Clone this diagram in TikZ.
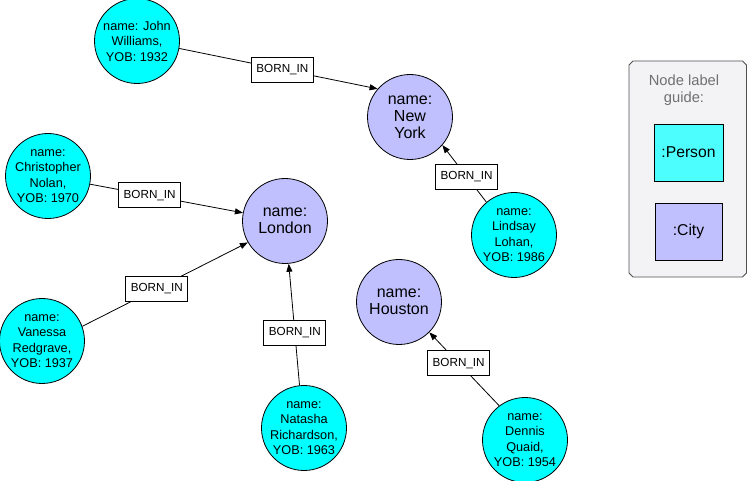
\documentclass[tikz,border=0pt]{standalone}
\usepackage{fontspec}
\setmainfont{Liberation Sans}
\usetikzlibrary{arrows.meta}
\definecolor{personfill}{HTML}{00FFFF}
\definecolor{personkey}{HTML}{4DFEFE}
\definecolor{cityfill}{HTML}{C0C0FF}
\definecolor{guidefill}{HTML}{F3F2F5}
\definecolor{guideline}{HTML}{505050}
\definecolor{guidetext}{HTML}{707070}

\begin{document}
\begin{tikzpicture}[x=1pt,y=-1pt,line width=0.8pt,>={Triangle[length=8pt,width=6pt]}]
  \tikzstyle{person}=[circle,draw,fill=personfill,minimum size=85pt,inner sep=-4pt,align=center,font=\fontsize{12.7}{15.5}\selectfont]
  \tikzstyle{city}=[circle,draw,fill=cityfill,minimum size=85pt,inner sep=0pt,align=center,font=\fontsize{16}{17}\selectfont]
  \tikzstyle{rel}=[draw,fill=white,minimum width=62pt,minimum height=25pt,inner sep=0pt,font=\fontsize{11.7}{14}\selectfont]
  \tikzstyle{key}=[draw,minimum height=57pt,inner sep=0pt,font=\fontsize{15.7}{18}\selectfont]
  \useasboundingbox (0,0) rectangle (748,481);

  % node label guide
  \draw[guideline,fill=guidefill] (633,61) -- (742.5,61) -- (746.5,65) -- (746.5,273)
    -- (742.5,277) -- (633,277) -- (629,273) -- (629,65) -- cycle;
  \node[align=center,text=guidetext,font=\fontsize{14.7}{17}\selectfont] (guide) at (684,90) {Node label\\guide:};
  \node[key,fill=personkey,minimum width=69pt] (kperson) at (688.5,152.5) {:Person};
  \node[key,fill=cityfill,minimum width=67pt]  (kcity)   at (688.5,231.5) {:City};

  % cities
  \node[city] (ny)  at (410,117) {name:\\New\\York};
  \node[city] (ldn) at (285,221) {name:\\London};
  \node[city] (hou) at (399,302) {name:\\Houston};

  % people
  \node[person] (jw) at (137,41)  {name: John\\Williams,\\YOB: 1932};
  \node[person] (cn) at (48,176)  {name:\\Christopher\\Nolan,\\YOB: 1970};
  \node[person] (vr) at (42,341)  {name:\\Vanessa\\Redgrave,\\YOB: 1937};
  \node[person] (nr) at (304,428) {name:\\Natasha\\Richardson,\\YOB: 1963};
  \node[person] (ll) at (514,235) {name:\\Lindsay\\Lohan,\\YOB: 1986};
  \node[person] (dq) at (525,440) {name:\\Dennis\\Quaid,\\YOB: 1954};

  \path[->]
  (jw.-10) edge node[rel,pos=0.52] {BORN\_IN} (ny.139)
  (cn.-11) edge node[rel,pos=0.39] {BORN\_IN} (ldn.169)
  (vr.20)  edge node[rel,pos=0.45] {BORN\_IN} (ldn.210)
  (nr.96)  edge node[rel,pos=0.43] {BORN\_IN} (ldn.-85)
  (ll.130) edge node[rel,pos=0.45] {BORN\_IN} (ny.-41)
  (dq.127) edge node[rel,pos=0.58] {BORN\_IN} (hou.-45);
\end{tikzpicture}
\end{document}
